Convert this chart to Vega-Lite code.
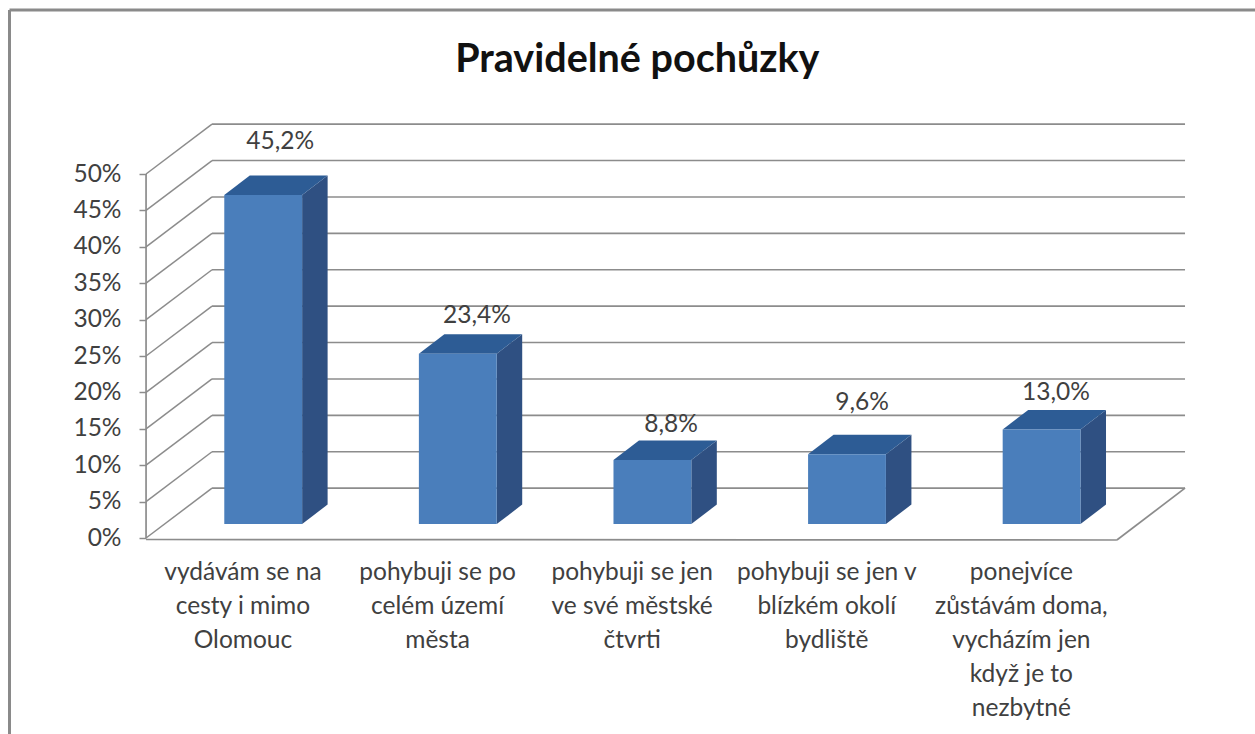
{
  "$schema": "https://vega.github.io/schema/vega-lite/v6.json",
  "width": 1245.5,
  "height": 724,
  "autosize": {"type": "none"},
  "padding": {"left": 9.5, "top": 10, "right": 0, "bottom": 0},
  "background": "white",
  "config": {"view": {"stroke": null}, "font": "Lato"},
  "title": {"text": "Pravidelné pochůzky", "font": "Lato", "fontSize": 39.5, "fontWeight": "bold", "color": "#111111", "anchor": "middle", "offset": -72, "dx": 5},
  "data": {"values": [
    {"i": 0, "category": "vydávám se na\ncesty i mimo\nOlomouc", "value": 45.2},
    {"i": 1, "category": "pohybuji se po\ncelém území\nměsta", "value": 23.4},
    {"i": 2, "category": "pohybuji se jen\nve své městské\nčtvrti", "value": 8.8},
    {"i": 3, "category": "pohybuji se jen v\nblízkém okolí\nbydliště", "value": 9.6},
    {"i": 4, "category": "ponejvíce\nzůstávám doma,\nvycházím jen\nkdyž je to\nnezbytné", "value": 13.0}
  ]},
  "layer": [
    {
      "data": {"values": [{"v": 0}, {"v": 5}, {"v": 10}, {"v": 15}, {"v": 20}, {"v": 25}, {"v": 30}, {"v": 35}, {"v": 40}, {"v": 45}, {"v": 50}]},
      "transform": [{"calculate": "datum.v + 6.85", "as": "back"}],
      "mark": {"type": "rule", "color": "#8c8c8c", "strokeWidth": 1.6},
      "encoding": {
        "x": {"datum": -0.263, "type": "quantitative", "scale": {"domain": [-1.3037, 5.0966], "nice": false, "zero": false}, "axis": null},
        "x2": {"datum": 4.737},
        "y": {"field": "back", "type": "quantitative", "title": null, "scale": {"domain": [-26.92, 72.53], "nice": false, "zero": false},
          "axis": {"title": null, "values": [0, 5, 10, 15, 20, 25, 30, 35, 40, 45, 50], "labelExpr": "datum.value + '%'", "offset": -136.5, "domain": false, "grid": false, "tickSize": 7, "tickColor": "#8c8c8c", "tickWidth": 1.5, "labelPadding": 18, "labelFontSize": 24.5, "labelFont": "Lato", "labelColor": "#404040"}}
      }
    },
    {
      "data": {"values": [{"v": 0}, {"v": 5}, {"v": 10}, {"v": 15}, {"v": 20}, {"v": 25}, {"v": 30}, {"v": 35}, {"v": 40}, {"v": 45}, {"v": 50}]},
      "transform": [{"calculate": "datum.v + 6.85", "as": "back"}],
      "mark": {"type": "rule", "color": "#8c8c8c", "strokeWidth": 1.5},
      "encoding": {
        "x": {"datum": -0.602, "type": "quantitative", "axis": null},
        "x2": {"datum": -0.263},
        "y": {"field": "v", "type": "quantitative", "title": null},
        "y2": {"field": "back"}
      }
    },
    {
      "data": {"values": [{"x": -0.602, "x2": -0.602, "y": 0, "y2": 50}, {"x": -0.602, "x2": 4.387, "y": -0.2, "y2": -0.27}, {"x": 4.387, "x2": 4.737, "y": -0.27, "y2": 6.85}]},
      "mark": {"type": "rule", "color": "#8c8c8c", "strokeWidth": 1.7},
      "encoding": {
        "x": {"field": "x", "type": "quantitative", "axis": null},
        "x2": {"field": "x2"},
        "y": {"field": "y", "type": "quantitative", "title": null},
        "y2": {"field": "y2"}
      }
    },
    {
      "data": {"values": [{}]},
      "mark": {"type": "rule", "color": "#8a8a8a", "strokeWidth": 3},
      "encoding": {"x": {"datum": -1.3037, "type": "quantitative", "axis": null}}
    },
    {
      "data": {"values": [{}]},
      "mark": {"type": "rule", "color": "#8a8a8a", "strokeWidth": 3},
      "encoding": {"y": {"datum": 72.53, "type": "quantitative", "title": null}}
    },
    {
      "transform": [
        {"calculate": "[0.2, 0.331]", "as": "dx"},
        {"calculate": "[1.92, 4.6]", "as": "lift"},
        {"flatten": ["dx", "lift"]},
        {"calculate": "datum.i + datum.dx", "as": "px"},
        {"calculate": "datum.value + datum.lift", "as": "high"}
      ],
      "mark": {"type": "area", "color": "#2f5082", "orient": "vertical"},
      "encoding": {
        "x": {"field": "px", "type": "quantitative", "axis": null},
        "y": {"field": "lift", "type": "quantitative", "title": null},
        "y2": {"field": "high"},
        "detail": {"field": "i"}
      }
    },
    {
      "transform": [
        {"calculate": "[-0.2, -0.069, 0.2, 0.331]", "as": "dx"},
        {"calculate": "[0, 0, 0, 2.68]", "as": "lo"},
        {"calculate": "[0, 2.68, 2.68, 2.68]", "as": "hi"},
        {"flatten": ["dx", "lo", "hi"]},
        {"calculate": "datum.i + datum.dx", "as": "px"},
        {"calculate": "datum.value + 1.92 + datum.lo", "as": "low"},
        {"calculate": "datum.value + 1.92 + datum.hi", "as": "high"}
      ],
      "mark": {"type": "area", "color": "#2d5c95", "orient": "vertical"},
      "encoding": {
        "x": {"field": "px", "type": "quantitative", "axis": null},
        "y": {"field": "low", "type": "quantitative", "title": null},
        "y2": {"field": "high"},
        "detail": {"field": "i"}
      }
    },
    {
      "transform": [
        {"calculate": "datum.i - 0.2", "as": "left"},
        {"calculate": "datum.i + 0.2", "as": "right"},
        {"calculate": "datum.value + 1.92", "as": "top"},
        {"calculate": "1.92", "as": "base"}
      ],
      "mark": {"type": "rect", "color": "#4a7ebb"},
      "encoding": {
        "x": {"field": "left", "type": "quantitative", "axis": null},
        "x2": {"field": "right"},
        "y": {"field": "top", "type": "quantitative", "title": null},
        "y2": {"field": "base"}
      }
    },
    {
      "transform": [
        {"calculate": "datum.i + [0.087, 0.098, 0.096, 0.077, 0.074][datum.i]", "as": "px"},
        {"calculate": "datum.value + [9.2, 7.1, 6.73, 8.95, 6.92][datum.i]", "as": "py"},
        {"calculate": "replace(format(datum.value, '.1f'), '.', ',') + '%'", "as": "label"}
      ],
      "mark": {"type": "text", "font": "Lato", "fontSize": 24.5, "color": "#404040", "align": "center", "baseline": "middle"},
      "encoding": {
        "x": {"field": "px", "type": "quantitative", "axis": null},
        "y": {"field": "py", "type": "quantitative", "title": null},
        "text": {"field": "label"}
      }
    },
    {
      "transform": [{"calculate": "datum.i - 0.104", "as": "px"}],
      "mark": {"type": "text", "font": "Lato", "fontSize": 24.5, "color": "#404040", "align": "center", "baseline": "top", "lineBreak": "\n", "lineHeight": 34},
      "encoding": {
        "x": {"field": "px", "type": "quantitative", "axis": null},
        "y": {"datum": -3.2, "type": "quantitative", "title": null},
        "text": {"field": "category"}
      }
    }
  ]
}
